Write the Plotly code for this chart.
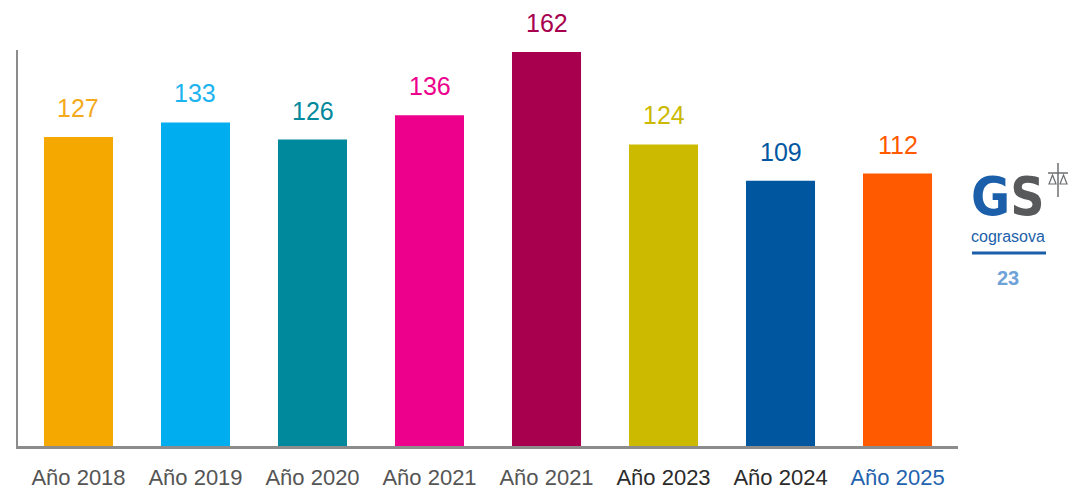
import plotly.graph_objects as go

categories = ["Año 2018", "Año 2019", "Año 2020", "Año 2021", "Año 2021", "Año 2023", "Año 2024", "Año 2025"]
values = [127, 133, 126, 136, 162, 124, 109, 112]
bar_colors = ["#F5A800", "#00AEEF", "#00889C", "#EC008C", "#A8004F", "#CCBA00", "#0057A0", "#FF5A00"]
label_colors = ["#F5AA1C", "#1DB3EF", "#00889C", "#EC008C", "#A8004F", "#CCBA00", "#0057A0", "#FF5A00"]
tick_colors = ["#555555", "#555555", "#555555", "#555555", "#555555", "#2b2b2b", "#2b2b2b", "#1F63AE"]

FONT = "Liberation Sans"
xs = list(range(len(categories)))

# plot area in figure pixels (page body adds ~8px offset)
L, R, T, B = 10, 130, 42, 53
PW, PH = 1080 - L - R, 491 - T - B


def px(sx):
    return (sx - 8 - L) / PW


def py(sy):
    return (491 - B - (sy - 8)) / PH


fig = go.Figure()
fig.add_trace(go.Bar(x=xs, y=values, marker=dict(color=bar_colors, line=dict(width=0)),
                     width=0.59, hoverinfo="skip"))

for i, v in enumerate(values):
    fig.add_annotation(x=i, y=v, text=str(v), showarrow=False, yanchor="bottom", yshift=13,
                       font=dict(family=FONT, size=25, color=label_colors[i]))

ticktext = [f"<span style='color:{c}'>{t}</span>" for t, c in zip(categories, tick_colors)]

fig.update_layout(
    width=1080, height=491, autosize=False,
    margin=dict(l=L, r=R, t=T, b=B),
    paper_bgcolor="white", plot_bgcolor="white",
    showlegend=False,
    xaxis=dict(tickvals=xs, ticktext=ticktext, range=[-0.517, 7.517], automargin=False,
               showline=True, linecolor="#8c8c8c", linewidth=3, showgrid=False,
               ticks="", tickfont=dict(family=FONT, size=22, color="#555555"),
               ticklabelstandoff=10, zeroline=False),
    yaxis=dict(range=[0, 162.8], showline=True, linecolor="#8c8c8c", linewidth=2, automargin=False,
               showgrid=False, showticklabels=False, ticks="", zeroline=False),
)

# Logo (decorative)
fig.add_annotation(xref="paper", yref="paper", x=px(1008), y=py(196), xanchor="center", yanchor="middle",
                   text="<b><span style='color:#1B5FAA'>G</span><span style='color:#58595B'>S</span></b>",
                   showarrow=False,
                   font=dict(family="DejaVu Sans Condensed, DejaVu Sans", size=53))
fig.add_annotation(xref="paper", yref="paper", x=px(1008), y=py(236), xanchor="center", yanchor="middle",
                   text="cograsova", showarrow=False,
                   font=dict(family=FONT, size=16, color="#1B5FAA"))
fig.add_shape(type="line", xref="paper", yref="paper", x0=px(972), x1=px(1046), y0=py(253), y1=py(253),
              line=dict(color="#1B5FAA", width=3))
fig.add_annotation(xref="paper", yref="paper", x=px(1008), y=py(278), xanchor="center", yanchor="middle",
                   text="<b>23</b>", showarrow=False,
                   font=dict(family=FONT, size=20, color="#6FA3D8"))
# scales icon
ICON = "#6d6e70"
fig.add_shape(type="line", xref="paper", yref="paper", x0=px(1058), x1=px(1058), y0=py(163), y1=py(197),
              line=dict(color=ICON, width=1.5))
fig.add_shape(type="line", xref="paper", yref="paper", x0=px(1048), x1=px(1068), y0=py(173), y1=py(173),
              line=dict(color=ICON, width=1.5))
for a, b in [(1049, 1056), (1060, 1067)]:
    m = (a + b) / 2
    fig.add_shape(type="path", xref="paper", yref="paper",
                  path=f"M {px(m)} {py(175)} L {px(a)} {py(184)} L {px(b)} {py(184)} Z",
                  line=dict(color=ICON, width=1.2))

fig.write_html("out.html")
